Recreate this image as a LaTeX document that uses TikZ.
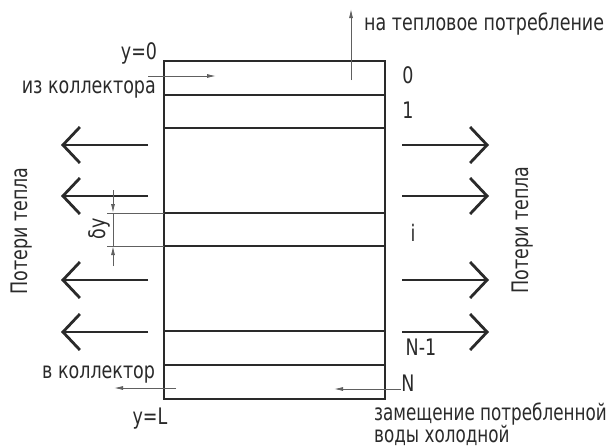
\documentclass[tikz,border=0pt]{standalone}
\usepackage{fontspec}
\usepackage{graphicx}
\setmainfont{DejaVu Sans}
\usetikzlibrary{arrows.meta}
\newcommand\tall[1]{\scalebox{1}[1.3]{#1}}
\newcommand\tallnarrow[1]{\scalebox{0.96}[1.3]{#1}}
\definecolor{ink}{HTML}{2A2A2A}
\definecolor{thin}{HTML}{606060}
\tikzset{
  lbl/.style={inner sep=0pt, text=ink, font=\fontsize{17.5}{19}\selectfont},
  wall/.style={draw=ink, line width=2.2pt},
  layer/.style={draw=ink, line width=2pt},
  lossarrow/.style={draw=ink, line width=2.8pt,
    -{Straight Barb[length=17pt, width=36pt, line width=2.8pt]}},
  flow/.style={draw=thin, line width=0.9pt, -{Latex[length=9pt, width=4pt]}},
  extline/.style={draw=thin, line width=0.8pt},
  dimline/.style={draw=thin, line width=0.8pt}
}
\begin{document}
\begin{tikzpicture}[x=1pt, y=-1pt]
  \useasboundingbox[fill=white] (0,0) rectangle (613,447);

  % tank outline and layer boundaries
  \coordinate (tl) at (164,61);
  \coordinate (br) at (385,399);
  \draw[wall] (tl) rectangle (br);
  \foreach \yy/\nm in {95/l1, 128/l2, 213/l3, 246/l4, 331/l5, 365/l6}{
    \coordinate (\nm w) at (164,\yy);
    \coordinate (\nm e) at (385,\yy);
    \draw[layer] (\nm w) -- (\nm e);
  }

  % heat losses through the walls
  \foreach \yy/\k in {145/a, 196/b, 280/c, 332/d}{
    \coordinate (ls\k) at (148,\yy);
    \coordinate (lt\k) at (61,\yy);
    \coordinate (rs\k) at (402,\yy);
    \coordinate (rt\k) at (489,\yy);
    \draw[lossarrow] (ls\k) -- (lt\k);
    \draw[lossarrow] (rs\k) -- (rt\k);
  }

  % layer thickness dimension
  \coordinate (e1a) at (107,213);
  \coordinate (e2a) at (107,246);
  \draw[extline] (e1a) -- (l3w);
  \draw[extline] (e2a) -- (l4w);
  \coordinate (d1) at (113,190);
  \coordinate (d1t) at (113,213);
  \coordinate (d2) at (113,266);
  \coordinate (d2t) at (113,246);
  \draw[dimline] (d1t) -- (d2t);
  \draw[flow] (d1) -- (d1t);
  \draw[flow] (d2) -- (d2t);
  \node[lbl, rotate=90] (dy) at (99,229) {\tall{δy}};

  % in- and outflows
  \coordinate (inA) at (148,76);
  \coordinate (inB) at (216,76);
  \draw[flow] (inA) -- (inB);
  \coordinate (upA) at (351,80);
  \coordinate (upB) at (351,9);
  \draw[flow] (upA) -- (upB);
  \coordinate (outA) at (176,388);
  \coordinate (outB) at (114,388);
  \draw[flow] (outA) -- (outB);
  \coordinate (cwA) at (401,389);
  \coordinate (cwB) at (334,389);
  \draw[flow] (cwA) -- (cwB);

  % labels
  \node[lbl] (y0) at (139,53) {\tall{y=0}};
  \node[lbl, anchor=east] (fromcol) at (156,89) {\tall{из коллектора}};
  \node[lbl, anchor=west] (tocons) at (364,24) {\tall{на тепловое потребление}};
  \node[lbl] (n0) at (408,75) {\tall{0}};
  \node[lbl] (n1) at (408,110) {\tall{1}};
  \node[lbl] (ni) at (413,233) {\tall{i}};
  \node[lbl] (nN1) at (421,347) {\tall{N-1}};
  \node[lbl] (nN) at (408,383) {\tall{N}};
  \node[lbl, anchor=west] (tocol) at (42,374) {\tall{в коллектор}};
  \node[lbl] (yL) at (150,419) {\tall{y=L}};
  \node[lbl, anchor=west] (repl1) at (374,414) {\tallnarrow{замещение потребленной}};
  \node[lbl, anchor=west] (repl2) at (374,435) {\tallnarrow{воды холодной}};
  \node[lbl, rotate=90] (lossL) at (22,231) {\tall{Потери тепла}};
  \node[lbl, rotate=90] (lossR) at (523,230) {\tall{Потери тепла}};
\end{tikzpicture}
\end{document}
